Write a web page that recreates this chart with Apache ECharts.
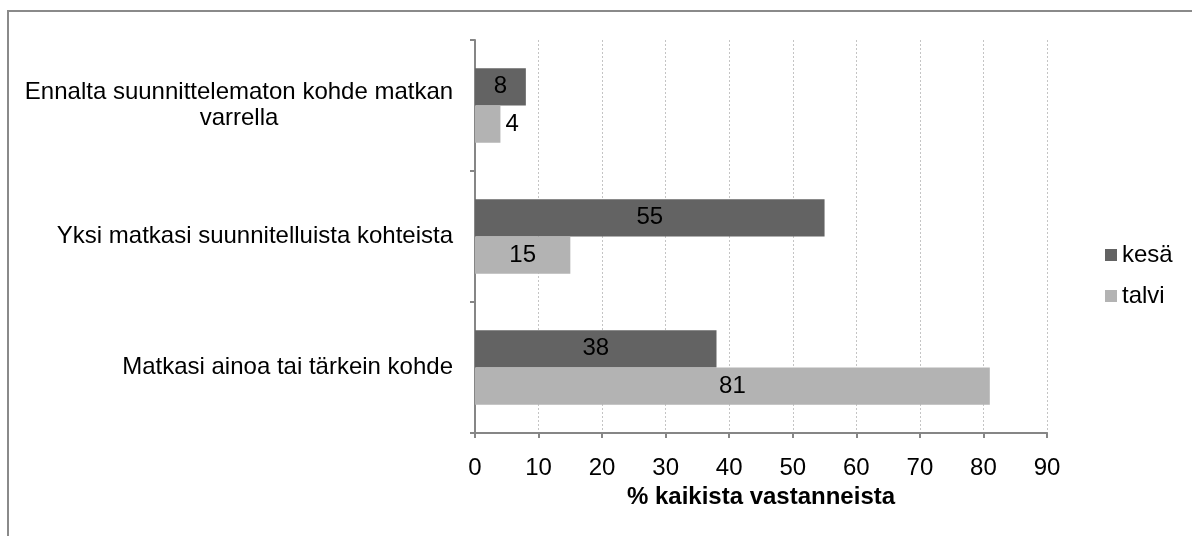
<!DOCTYPE html>
<html>
<head>
<meta charset="utf-8">
<script src="https://cdn.jsdelivr.net/npm/echarts@6/dist/echarts.min.js"></script>
<style>
  html, body { margin: 0; padding: 0; background: #fff; }
  #box { width: 1192px; height: 536px; }
</style>
</head>
<body>
<div id="box"></div>
<script>
  // kategoriat ylhäältä alas
  var categories = [
    'Ennalta suunnittelematon kohde matkan\nvarrella',
    'Yksi matkasi suunnitelluista kohteista',
    'Matkasi ainoa tai tärkein kohde'
  ];
  var kesa = [8, 55, 38];
  var talvi = [4, 15, 81];
  var xTicks = [0, 90, 10]; // min, max, interval

  var chart = echarts.init(document.getElementById('box'));
  var font = '"Liberation Sans", Arial, sans-serif';
  var fs = 24;

  var option = {
    animation: false,
    textStyle: { fontFamily: font },
    graphic: [{
      type: 'rect',
      shape: { x: 8, y: 11, width: 1300, height: 700 },
      style: { fill: 'none', stroke: '#8a8a8a', lineWidth: 2 },
      silent: true
    }],
    legend: {
      orient: 'vertical',
      left: 1100,
      top: 238,
      itemWidth: 12,
      itemHeight: 12,
      itemGap: 17,
      icon: 'rect',
      textStyle: { fontSize: fs, color: '#000', fontFamily: font },
      data: ['kesä', 'talvi']
    },
    grid: { left: 475, right: 145, top: 40, bottom: 103 },
    xAxis: {
      type: 'value',
      min: xTicks[0],
      max: xTicks[1],
      interval: xTicks[2],
      name: '% kaikista vastanneista',
      nameLocation: 'middle',
      nameGap: 52,
      nameTextStyle: { fontSize: fs, fontWeight: 'bold', color: '#000', fontFamily: font },
      axisLine: { show: true, lineStyle: { color: '#868686', width: 2 } },
      axisTick: { show: true, length: 5, lineStyle: { color: '#868686', width: 2 } },
      axisLabel: { fontSize: fs, color: '#000', margin: 23, fontFamily: font },
      splitLine: { show: true, lineStyle: { color: '#c4c4c4', type: [2, 2], width: 1 } }
    },
    yAxis: {
      type: 'category',
      inverse: true,
      data: categories,
      axisLine: { show: true, lineStyle: { color: '#868686', width: 2 } },
      axisTick: { show: true, length: 5, lineStyle: { color: '#868686', width: 2 } },
      axisLabel: {
        fontSize: fs, color: '#000', margin: 22, fontFamily: font, lineHeight: 26,
        formatter: function (v) {
          return v.indexOf('\n') >= 0 ? '{c|' + v.split('\n').join('}\n{c|') + '}' : v;
        },
        rich: { c: { width: 428, align: 'center', fontSize: fs, lineHeight: 26, fontFamily: font, color: '#000' } }
      },
      splitLine: { show: false }
    },
    series: [
      {
        name: 'kesä',
        type: 'bar',
        data: kesa,
        barCategoryGap: '43%',
        barGap: '0%',
        itemStyle: { color: '#636363' },
        label: { show: true, position: 'inside', color: '#000', fontSize: fs, fontFamily: font }
      },
      {
        name: 'talvi',
        type: 'bar',
        data: talvi.map(function (v) {
          return v < 6 ? { value: v, label: { position: 'right', distance: 5 } } : v;
        }),
        barCategoryGap: '43%',
        barGap: '0%',
        itemStyle: { color: '#b3b3b3' },
        label: { show: true, position: 'inside', color: '#000', fontSize: fs, fontFamily: font }
      }
    ]
  };

  chart.setOption(option);
</script>
</body>
</html>
